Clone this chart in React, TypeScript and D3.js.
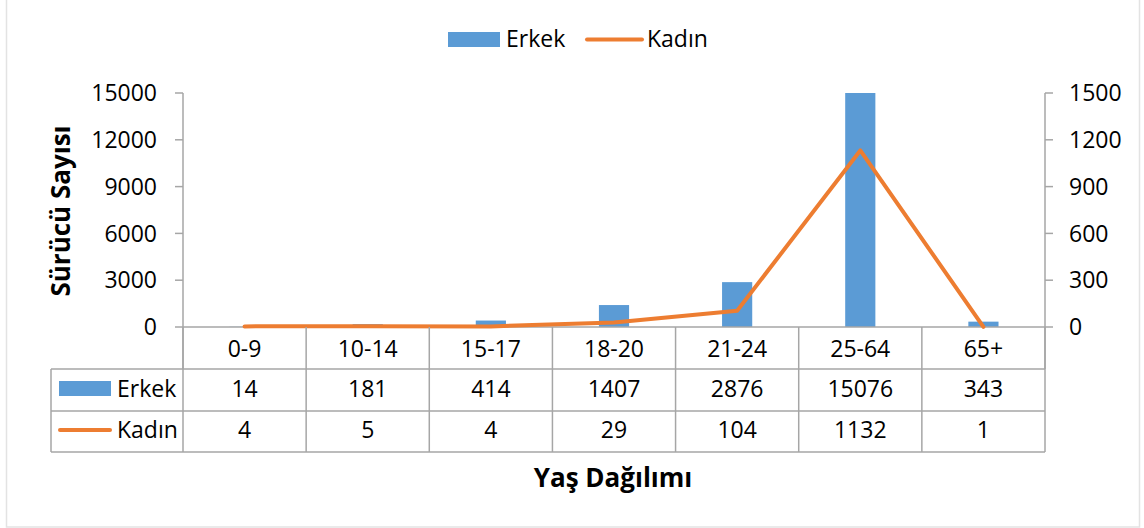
import React from "react";
import * as d3 from "d3";

const categories = ["0-9", "10-14", "15-17", "18-20", "21-24", "25-64", "65+"];
const erkek = [14, 181, 414, 1407, 2876, 15076, 343];
const kadin = [4, 5, 4, 29, 104, 1132, 1];
const leftTicks = [0, 3000, 6000, 9000, 12000, 15000];
const rightTicks = [0, 300, 600, 900, 1200, 1500];
const seriesNames = ["Erkek", "Kadın"];
const yTitle = "Sürücü Sayısı";
const xTitle = "Yaş Dağılımı";

const W = 1144;
const H = 528;
const FONT = "'Open Sans', 'Noto Sans', sans-serif";
const BLUE = "#5B9BD5";
const ORANGE = "#ED7D31";
const GRID = "#A6A6A6";

export default function App() {
  const left = 183;
  const right = 1045;
  const top = 93;
  const bottom = 327;
  const x = d3.scaleBand<string>().domain(categories).range([left, right]).padding(0);
  const yL = d3.scaleLinear().domain([0, 15000]).range([bottom, top]);
  const yR = d3.scaleLinear().domain([0, 1500]).range([bottom, top]);
  const barW = x.bandwidth() * 0.245;
  const cx = (c: string) => (x(c) as number) + x.bandwidth() / 2;
  const line = d3
    .line<number>()
    .x((_, i) => cx(categories[i]))
    .y((d) => yR(d));

  const rowCat = [327, 369];
  const rowE = [369, 411];
  const rowK = [411, 452];
  const tableLeft = 51;
  const fs = 23;

  return (
    <svg
      width={W}
      height={H}
      style={{ position: "absolute", left: 0, top: 0, background: "#fff" }}
      fontFamily={FONT}
    >
      <defs>
        <clipPath id="plotclip">
          <rect x={left} y={top} width={right - left} height={bottom - top} />
        </clipPath>
      </defs>
      <rect x={6.5} y={-10} width={1133} height={537} fill="#fff" stroke="#E3E3E3" strokeWidth={1.5} />

      {/* legend */}
      <rect x={448} y={32} width={52} height={15} fill={BLUE} />
      <text x={506} y={47} fontSize={fs} fill="#000">{seriesNames[0]}</text>
      <line x1={587} x2={642} y1={39.5} y2={39.5} stroke={ORANGE} strokeWidth={4} strokeLinecap="round" />
      <text x={647} y={47} fontSize={fs} fill="#000">{seriesNames[1]}</text>

      {/* bars */}
      <g clipPath="url(#plotclip)">
        {categories.map((c, i) => (
          <rect
            key={c}
            x={cx(c) - barW / 2}
            y={yL(erkek[i])}
            width={barW}
            height={bottom - yL(erkek[i])}
            fill={BLUE}
          />
        ))}
      </g>

      {/* axes */}
      <line x1={left} x2={left} y1={top} y2={rowCat[1]} stroke={GRID} strokeWidth={1.5} />
      <line x1={right} x2={right} y1={top} y2={rowCat[1]} stroke={GRID} strokeWidth={1.5} />
      {leftTicks.map((t) => (
        <g key={"l" + t}>
          <line x1={left - 8} x2={left} y1={yL(t)} y2={yL(t)} stroke={GRID} strokeWidth={1.5} />
          <text x={157} y={yL(t) + 8.2} fontSize={fs} textAnchor="end" fill="#000">{t}</text>
        </g>
      ))}
      {rightTicks.map((t) => (
        <g key={"r" + t}>
          <line x1={right} x2={right + 8} y1={yR(t)} y2={yR(t)} stroke={GRID} strokeWidth={1.5} />
          <text x={1069} y={yR(t) + 8.2} fontSize={fs} textAnchor="start" fill="#000">{t}</text>
        </g>
      ))}
      <line x1={left} x2={right} y1={bottom} y2={bottom} stroke={GRID} strokeWidth={1.5} />

      {/* line */}
      <path d={line(kadin) || ""} fill="none" stroke={ORANGE} strokeWidth={4} strokeLinejoin="round" strokeLinecap="round" />

      {/* table */}
      {categories.map((c, i) => (
        <g key={"t" + c}>
          <line x1={x(c) as number} x2={x(c) as number} y1={rowCat[0]} y2={rowK[1]} stroke={GRID} strokeWidth={1.5} />
          <text x={cx(c)} y={357} fontSize={fs} textAnchor="middle" fill="#000">{c}</text>
          <text x={cx(c)} y={397} fontSize={fs} textAnchor="middle" fill="#000">{erkek[i]}</text>
          <text x={cx(c)} y={438} fontSize={fs} textAnchor="middle" fill="#000">{kadin[i]}</text>
        </g>
      ))}
      <line x1={right} x2={right} y1={rowCat[0]} y2={rowK[1]} stroke={GRID} strokeWidth={1.5} />
      <line x1={tableLeft} x2={tableLeft} y1={rowE[0]} y2={rowK[1]} stroke={GRID} strokeWidth={1.5} />
      <line x1={tableLeft} x2={right} y1={rowE[0]} y2={rowE[0]} stroke={GRID} strokeWidth={1.5} />
      <line x1={tableLeft} x2={right} y1={rowK[0]} y2={rowK[0]} stroke={GRID} strokeWidth={1.5} />
      <line x1={tableLeft} x2={right} y1={rowK[1]} y2={rowK[1]} stroke={GRID} strokeWidth={1.5} />

      <rect x={59} y={381} width={52} height={15} fill={BLUE} />
      <text x={117} y={397} fontSize={fs} fill="#000">{seriesNames[0]}</text>
      <line x1={60} x2={110} y1={430} y2={430} stroke={ORANGE} strokeWidth={4} strokeLinecap="round" />
      <text x={117} y={438} fontSize={fs} fill="#000">{seriesNames[1]}</text>

      {/* titles */}
      <text
        transform={`translate(70,211) rotate(-90)`}
        fontSize={26}
        fontWeight="bold"
        textAnchor="middle"
        fill="#000"
      >
        {yTitle}
      </text>
      <text x={613} y={487} fontSize={26} fontWeight="bold" textAnchor="middle" fill="#000">
        {xTitle}
      </text>
    </svg>
  );
}
